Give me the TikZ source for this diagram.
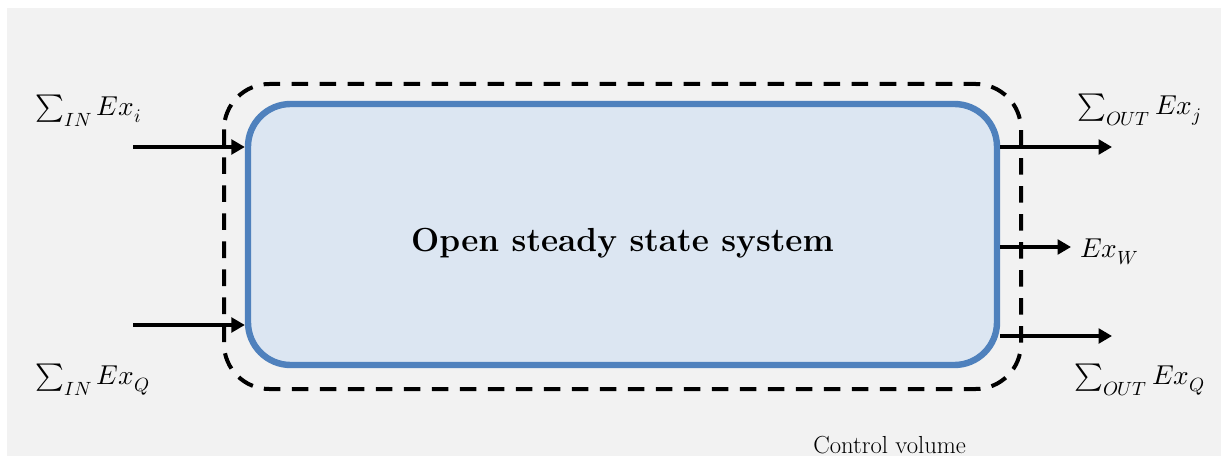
\documentclass[tikz,border=0pt]{standalone}
\usepackage{fontspec}
\usepackage{unicode-math}
\usetikzlibrary{arrows.meta}
\definecolor{bggray}{HTML}{F2F2F2}
\definecolor{sysblue}{HTML}{4F81BD}
\definecolor{sysfill}{HTML}{DCE6F2}
\tikzset{
  sysbox/.style={draw=sysblue, fill=sysfill, line width=4.8pt, rounded corners=32pt,
    minimum width=561.75pt, minimum height=195.75pt, inner sep=0pt,
    font=\fontsize{25}{30}\selectfont\bfseries},
  cvline/.style={draw=black, line width=3pt, dash pattern=on 12.5pt off 8.5pt, rounded corners=34pt},
  flow/.style={line width=2.3pt, -{Triangle[length=10pt,width=11pt]}},
  lbl/.style={inner sep=0pt, font=\fontsize{20.5}{24}\selectfont},
  cvlbl/.style={inner sep=0pt, anchor=base west, font=\fontsize{18.5}{22}\selectfont}
}
\begin{document}
\begin{tikzpicture}[x=0.75pt, y=-0.75pt]
\useasboundingbox (0,0) rectangle (1221,456);
\fill[bggray] (7,8) rectangle (1221,456);
% control volume
\draw[cvline] (224,84) rectangle (1021,389);
% system
\node[sysbox] (sys) at (622.5,234.5) {\raisebox{-12.5pt}[0pt][0pt]{Open steady state system}};
% inputs
\coordinate (in1) at (133,147);
\coordinate (in2) at (133,325);
\draw[flow] (in1) -- (in1 -| sys.west);
\draw[flow] (in2) -- (in2 -| sys.west);
% outputs
\coordinate (out1) at (1112,147);
\coordinate (out2) at (1071,247);
\coordinate (out3) at (1112,336);
\draw[flow] (out1 -| sys.east) -- (out1);
\draw[flow] (out2 -| sys.east) -- (out2);
\draw[flow] (out3 -| sys.east) -- (out3);
% labels
\node[lbl, anchor=west] (lin1) at (35,111) {$\sum_{IN} Ex_i$};
\node[lbl, anchor=west] (lin2) at (35,380) {$\sum_{IN} Ex_Q$};
\node[lbl, anchor=west] (lout1) at (1077,110) {$\sum_{OUT} Ex_j$};
\node[lbl, anchor=west] (lout2) at (1080,252) {$Ex_W$};
\node[lbl, anchor=west] (lout3) at (1074,380) {$\sum_{OUT} Ex_Q$};
\node[cvlbl] (cvl) at (813,453) {Control volume};
\end{tikzpicture}
\end{document}
